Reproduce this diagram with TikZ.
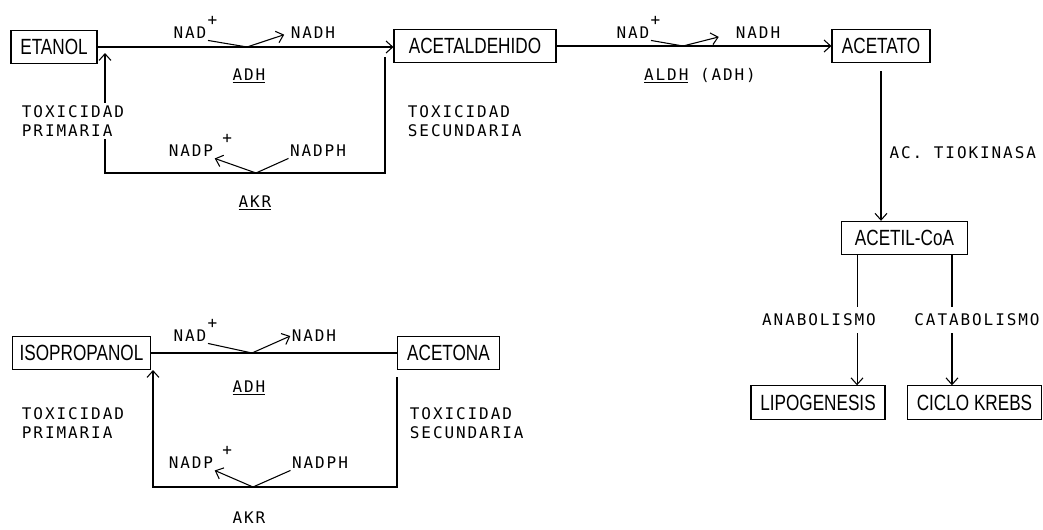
\documentclass[tikz,border=0pt]{standalone}
\usepackage{fontspec}
\usepackage{graphicx}
\usetikzlibrary{arrows.meta}

\newfontfamily\boxfont[FakeStretch=0.78]{Liberation Sans}
\newfontfamily\lblfont[LetterSpace=12]{DejaVu Sans Mono}
\newcommand\plusmark[1][1pt]{\rlap{\kern#1\raisebox{10pt}[0pt][0pt]{+}}}

\tikzset{
  compbox/.style={draw, line width=0.8pt, font=\boxfont\fontsize{16.5}{16.5}\selectfont, minimum height=25pt, inner sep=2pt},
  lbl/.style={font=\lblfont\fontsize{12}{14.3}\selectfont, inner sep=1pt},
  tox/.style={lbl, align=left, anchor=west, fill=white, inner sep=2pt},
  conn/.style={line width=0.8pt},
  arr/.style={conn, -{Straight Barb[length=5pt,width=9pt]}},
}

\begin{document}
\begin{tikzpicture}[x=0.75pt,y=0.75pt,yscale=-1,xscale=1]
\useasboundingbox (0,0) rectangle (1043,529);

% Compounds
\node[compbox, minimum width=64.5pt] (etanol) at (54,47) {ETANOL};
\node[compbox, minimum width=121.5pt] (acetal) at (475,46) {ACETALDEHIDO};
\node[compbox, minimum width=73.5pt] (acetato) at (881,46) {ACETATO};
\node[compbox, minimum width=94pt] (acetil) at (904.5,238) {ACETIL-CoA};
\node[compbox, minimum width=100.5pt] (lipo) at (818,402.5) {LIPOGENESIS};
\node[compbox, minimum width=100pt] (krebs) at (974.5,402.5) {CICLO KREBS};
\node[compbox, minimum width=104pt] (isoprop) at (81.5,353) {ISOPROPANOL};
\node[compbox, minimum width=77pt] (acetona) at (448.5,353) {ACETONA};

% Etanol -> Acetaldehido (ADH)
\draw[arr] (etanol.east) -- (etanol.east -| acetal.west);
\node[lbl] (nadA) at (190,33) {NAD\plusmark};
\node[lbl] (nadhA) at (313,33) {NADH};
\coordinate (jA) at (247,47);
\draw[conn] (nadA.south east) -- (jA);
\draw[arr, shorten >=4pt] (jA) -- (nadhA.west);
\node[lbl] (adhA) at (249,76) {\underline{ADH}};

% Acetaldehido -> Etanol (AKR)
\coordinate (acOut) at (385,57);
\coordinate (etIn) at (105,53);
\draw[arr] (acOut) -- ++(0,116) -| (etIn);
\node[lbl] (nadpA) at (191,151) {NADP\plusmark[7pt]};
\node[lbl] (nadphA) at (318,151) {NADPH};
\coordinate (jB) at (256,173);
\draw[arr] (jB) -- (nadpA.south east);
\draw[conn] (nadphA.south west) -- (jB);
\node[lbl] (akrA) at (255,203) {\underline{AKR}};
\node[tox] (toxA) at (19,121) {TOXICIDAD\\PRIMARIA};
\node[tox] (toxB) at (405,121) {TOXICIDAD\\SECUNDARIA};

% Acetaldehido -> Acetato (ALDH)
\draw[arr] (acetal.east) -- (acetal.east -| acetato.west);
\node[lbl] (nadB) at (633,33) {NAD\plusmark};
\node[lbl] (nadhB) at (758,33) {NADH};
\coordinate (jC) at (683,46);
\draw[conn] (nadB.south east) -- (jC);
\draw[arr, shorten >=12pt] (jC) -- (nadhB.west);
\node[lbl] (aldh) at (700,76) {\underline{ALDH} (ADH)};

% Acetato -> Acetil-CoA
\draw[arr, shorten <=6pt] (acetato.south) -- (acetato.south |- acetil.north);
\node[lbl, anchor=west] (tiok) at (888,153) {AC. TIOKINASA};

% Acetil-CoA branches
\draw[arr] ([xshift=-35.6pt]acetil.south) -- ([xshift=-35.6pt]acetil.south |- lipo.north);
\node[lbl, fill=white, inner ysep=5pt] (ana) at (819,320) {ANABOLISMO};
\draw[arr] ([xshift=35.6pt]acetil.south) -- ([xshift=35.6pt]acetil.south |- krebs.north);
\node[lbl, fill=white, inner ysep=5pt] (cata) at (977,320) {CATABOLISMO};

% Isopropanol <-> Acetona
\draw[conn] (isoprop.east) -- (acetona.west);
\node[lbl] (nadC) at (190,336) {NAD\plusmark};
\node[lbl] (nadhC) at (314,336) {NADH};
\coordinate (jD) at (252,353);
\draw[conn] (nadC.south east) -- (jD);
\draw[arr] (jD) -- (nadhC.west);
\node[lbl] (adhC) at (249,388) {\underline{ADH}};

\coordinate (acoOut) at (397,377);
\coordinate (isoIn) at (153,370);
\draw[arr] (acoOut) -- ++(0,110) -| (isoIn);
\node[lbl] (nadpC) at (191,463) {NADP\plusmark[7pt]};
\node[lbl] (nadphC) at (320,463) {NADPH};
\coordinate (jE) at (253,487);
\draw[arr] (jE) -- (nadpC.south east);
\draw[conn] (nadphC.south west) -- (jE);
\node[lbl] (akrC) at (249,518) {AKR};
\node[tox] (toxC) at (19,423) {TOXICIDAD\\PRIMARIA};
\node[tox] (toxD) at (407,423) {TOXICIDAD\\SECUNDARIA};

\end{tikzpicture}
\end{document}
